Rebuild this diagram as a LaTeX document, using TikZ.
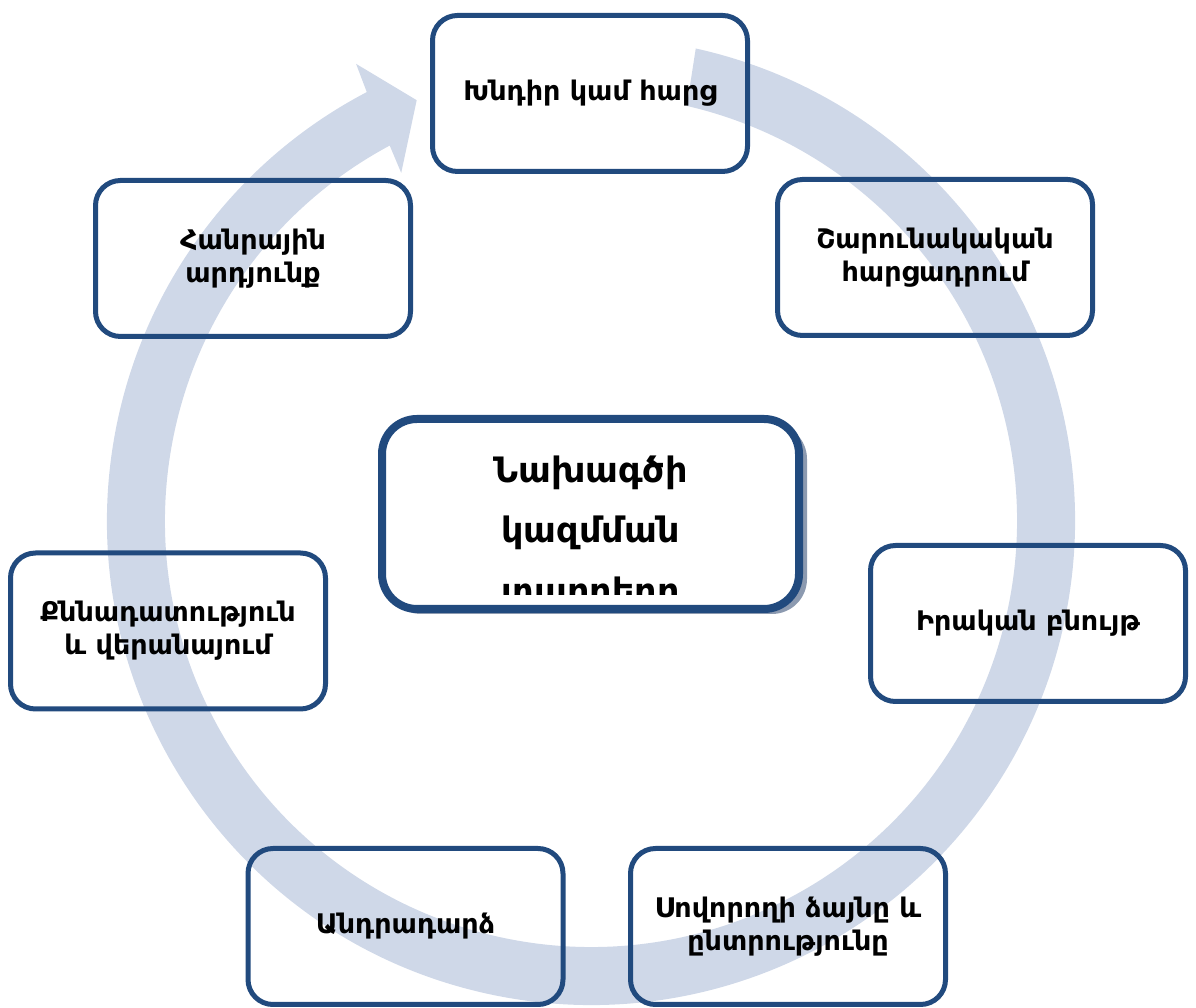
\documentclass[tikz,border=0pt]{standalone}
\usepackage{fontspec}
\setmainfont{DejaVu Sans}
\usetikzlibrary{calc}
\definecolor{bandc}{RGB}{207,216,232}
\definecolor{boxc}{RGB}{33,74,126}
\definecolor{shadc}{RGB}{140,154,176}
\tikzset{
  stagebox/.style={draw=boxc, line width=5pt, rounded corners=25pt,
    minimum width=315pt, minimum height=156pt, align=center,
    inner sep=0pt, font=\bfseries\fontsize{27}{33}\selectfont},
  ctrbox/.style={draw=boxc, fill=white, line width=8pt, rounded corners=35pt,
    minimum width=417pt, minimum height=190pt, inner sep=0pt},
  ctrtext/.style={anchor=base, inner sep=0pt, font=\bfseries\fontsize{35}{42}\selectfont}
}
\begin{document}
\begin{tikzpicture}[x=1pt,y=1pt]
\useasboundingbox (0,0) rectangle (1196,1008);
\coordinate (c) at (591,487);
% circular arrow band
\fill[bandc] ($(c)+(77.5:484)$) arc[start angle=77.5, end angle=-242.4, radius=484]
  -- ($(c)+(117.2:514)$) -- ($(c)+(112.5:455.5)$) -- ($(c)+(118.6:396.5)$)
  -- ($(c)+(118.2:426)$) arc[start angle=-241.8, end angle=77, radius=426] -- cycle;
% outer stage boxes
\node[stagebox] (top) at (590,914.5) {Խնդիր կամ հարց};
\node[stagebox] (rtop) at (935,750.5) {Շարունակական\\հարցադրում};
\node[stagebox] (right) at (1028,384.5) {Իրական բնույթ};
\node[stagebox] (brt) at (788,81.5) {Սովորողի ձայնը և\\ընտրությունը};
\node[stagebox] (blt) at (405.5,81.5) {Անդրադարձ};
\node[stagebox] (left) at (168,377) {Քննադատություն\\և վերանայում};
\node[stagebox] (ltop) at (253,749.5) {Հանրային\\արդյունք};
% center box with shadow
\fill[shadc, rounded corners=35pt] (386,394) rectangle (807,584);
\node[ctrbox] (ctr) at (590.5,494) {};
\begin{scope}
\clip (384,413) rectangle (797,590);
\node[ctrtext] (ct1) at (590.5,525) {Նախագծի};
\node[ctrtext] (ct2) at (590.5,465) {կազմման};
\node[ctrtext] (ct3) at (590.5,404) {տարրերը};
\end{scope}
\end{tikzpicture}
\end{document}
